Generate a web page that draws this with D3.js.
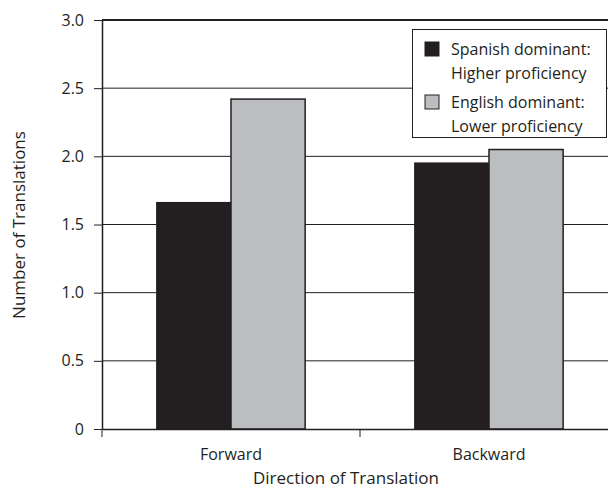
<!DOCTYPE html>
<html><head><meta charset="utf-8">
<script src="https://cdn.jsdelivr.net/npm/d3@7"></script>
<style>body{margin:0;background:#fff}svg{display:block}text{font-family:"Open Sans","Noto Sans",sans-serif;fill:#231f20}</style>
</head><body>
<svg id="c" width="608" height="491"></svg>
<script>
const categories = ["Forward", "Backward"];
const seriesNames = ["Spanish dominant", "English dominant"];
const spanishValues = [1.66, 1.95];
const englishValues = [2.42, 2.05];
const yTicks = [0, 0.5, 1.0, 1.5, 2.0, 2.5, 3.0];
const yTickLabels = ["0", "0.5", "1.0", "1.5", "2.0", "2.5", "3.0"];
const legendLines = [["Spanish dominant:", "Higher proficiency"], ["English dominant:", "Lower proficiency"]];

const colors = ["#231f20", "#bcbdc0"];
const svg = d3.select("#c");
const m = {l: 102, r: 618, t: 20, b: 429};
const x = d3.scaleBand().domain(categories).range([m.l, m.r]).paddingInner(0).paddingOuter(0);
const xs = d3.scaleBand().domain(seriesNames).range([0, x.bandwidth()]).paddingInner(0).paddingOuter(0.74);
const y = d3.scaleLinear().domain([0, 3]).range([m.b, m.t]);

// gridlines
svg.append("g").selectAll("line").data(yTicks.filter(d => d > 0)).join("line")
  .attr("x1", m.l).attr("x2", m.r).attr("y1", d => y(d)).attr("y2", d => y(d))
  .attr("stroke", "#231f20").attr("stroke-width", d => d === 3 ? 2 : 1);

// bars
const data = categories.map((c, i) => ({c, vals: [spanishValues[i], englishValues[i]]}));
const g = svg.append("g").selectAll("g").data(data).join("g").attr("transform", d => `translate(${x(d.c)},0)`);
g.selectAll("rect").data(d => d.vals.map((v, j) => ({v, s: seriesNames[j], j}))).join("rect")
  .attr("x", d => xs(d.s)).attr("width", xs.bandwidth())
  .attr("y", d => y(d.v)).attr("height", d => y(0) - y(d.v))
  .attr("fill", d => colors[d.j]).attr("stroke", "#231f20").attr("stroke-width", 1.5);

// y axis
const ya = svg.append("g").attr("transform", `translate(${m.l},0)`)
  .call(d3.axisLeft(y).tickValues(yTicks).tickFormat((d, i) => yTickLabels[i]).tickSize(8).tickSizeOuter(0).tickPadding(10));
ya.select(".domain").attr("stroke", "#231f20").attr("stroke-width", 1.5);
ya.selectAll(".tick line").attr("stroke", "#231f20");
ya.selectAll("text").attr("font-size", 16).style("font-family", '"Open Sans","Noto Sans",sans-serif').attr("fill", "#231f20");

// x axis
const xa = svg.append("g").attr("transform", `translate(0,${m.b})`)
  .call(d3.axisBottom(x).tickSize(0).tickPadding(20));
xa.select(".domain").attr("stroke", "#231f20").attr("stroke-width", 1.5);
xa.selectAll("text").attr("font-size", 16).style("font-family", '"Open Sans","Noto Sans",sans-serif').attr("fill", "#231f20");
const bounds = [m.l, x("Backward"), m.r];
svg.append("g").selectAll("line").data(bounds).join("line")
  .attr("x1", d => d).attr("x2", d => d).attr("y1", m.b).attr("y2", m.b + 8)
  .attr("stroke", "#231f20").attr("stroke-width", 1);

// titles
svg.append("text").attr("x", 346).attr("y", 484).attr("text-anchor", "middle").attr("font-size", 17).text("Direction of Translation");
svg.append("text").attr("transform", "translate(25,225) rotate(-90)").attr("text-anchor", "middle").attr("font-size", 17).text("Number of Translations");

// legend
const lg = svg.append("g");
lg.append("rect").attr("x", 412.5).attr("y", 29.5).attr("width", 194).attr("height", 108)
  .attr("fill", "#fff").attr("stroke", "#231f20").attr("stroke-width", 1);
legendLines.forEach((lines, i) => {
  const oy = 42 + i * 53;
  lg.append("rect").attr("x", 425).attr("y", oy).attr("width", 14).attr("height", 14)
    .attr("fill", colors[i]).attr("stroke", "#231f20").attr("stroke-width", 1);
  lines.forEach((t, k) => lg.append("text").attr("x", 451).attr("y", oy + 13 + k * 24).attr("font-size", 16).text(t));
});
</script>
</body></html>
